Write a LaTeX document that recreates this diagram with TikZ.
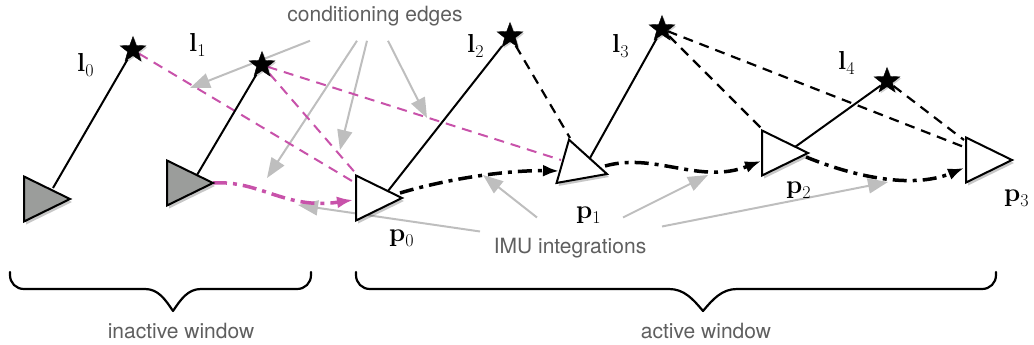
\documentclass[tikz,border=0pt]{standalone}
\usepackage{fontspec}
\newfontfamily\lab{TeX Gyre Heros}
\usetikzlibrary{shapes.geometric,arrows.meta,shadows}
\definecolor{mag}{RGB}{200,82,170}
\definecolor{lgrey}{RGB}{190,190,190}
\definecolor{tgrey}{RGB}{95,95,95}
\definecolor{tfill}{RGB}{155,157,155}
\pgfdeclarelayer{bg}
\pgfsetlayers{bg,main}
\newcommand{\vlab}[2]{\textbf{#1}\raisebox{-5pt}{\fontsize{18}{21}\selectfont #2}}
\tikzset{
  pose/.style={isosceles triangle, isosceles triangle stretches, minimum width=45pt, minimum height=46pt,
    inner sep=0pt, outer sep=0pt, draw=black, line width=2pt, fill=white, anchor=apex,
    drop shadow={fill=black, opacity=0.22, shadow xshift=2pt, shadow yshift=-3pt}},
  oldpose/.style={pose, fill=tfill},
  landmark/.style={star, star points=5, star point ratio=2.4, minimum size=27pt, inner sep=0pt,
    fill=black, draw=black,
    drop shadow={fill=black, opacity=0.18, shadow xshift=1.5pt, shadow yshift=-1.5pt}},
  lbl/.style={font=\lab\fontsize{21}{25}\selectfont, text=tgrey, inner sep=0pt, anchor=base},
  mlab/.style={font=\fontsize{26}{30}\selectfont, inner sep=0pt, anchor=base west},
  obs/.style={draw=black, line width=2pt},
  bdash/.style={draw=black, line width=2.2pt, dash pattern=on 10pt off 7pt},
  mdash/.style={draw=mag, line width=2pt, dash pattern=on 10pt off 7pt},
  imuc/.style={draw=black, line width=3.5pt, dash pattern=on 14pt off 6pt on 4pt off 6pt,
    -{Latex[length=16pt,width=12pt]}},
  magc/.style={imuc, draw=mag},
  greyarrow/.style={draw=lgrey, line width=2pt, -{Triangle[length=20pt,width=15pt]}},
  brace/.style={draw=black, line width=2.2pt, line cap=round, line join=round}
}
\begin{document}
\begin{tikzpicture}[x=1pt,y=-1pt]
\useasboundingbox (0,0) rectangle (1034,345);

% poses
\node[oldpose] (t0) at (70,199) {};
\node[oldpose] (t1) at (213,183) {};
\node[pose] (p0) at (402,198) {};
\node[pose, rotate=-16] (p1) at (607,174) {};
\node[pose] (p2) at (808,153) {};
\node[pose] (p3) at (1012,160) {};

% landmarks
\node[landmark] (l0) at (133,50) {};
\node[landmark] (l1) at (262,65) {};
\node[landmark] (l2) at (510,36) {};
\node[landmark] (l3) at (662,29) {};
\node[landmark] (l4) at (887,81) {};

% labels
\node[mlab] (tl0) at (77,72) {\vlab{l}{0}};
\node[mlab] (tl1) at (189,52) {\vlab{l}{1}};
\node[mlab] (tl2) at (467,53) {\vlab{l}{2}};
\node[mlab] (tl3) at (612,53) {\vlab{l}{3}};
\node[mlab] (tl4) at (838,70) {\vlab{l}{4}};
\node[mlab] (tp0) at (389,241) {\vlab{p}{0}};
\node[mlab] (tp1) at (576,218) {\vlab{p}{1}};
\node[mlab] (tp2) at (786,193) {\vlab{p}{2}};
\node[mlab] (tp3) at (1004,201) {\vlab{p}{3}};

\node[lbl] (ce) at (375,22) {conditioning edges};
\node[lbl] (imu) at (570,253) {IMU integrations};
\node[lbl] (iw) at (181,338) {inactive window};
\node[lbl] (aw) at (706,338) {active window};

% arrow targets
\coordinate (c1) at (190,88);
\coordinate (c2) at (267,178);
\coordinate (c3) at (340,150);
\coordinate (c4) at (427,118);
\coordinate (m1) at (298,205);
\coordinate (m2) at (483,175);
\coordinate (m3) at (708,175);
\coordinate (m4) at (888,182);

\begin{pgfonlayer}{bg}
% grey pointer arrows
\draw[greyarrow] ([shift={(-65,14)}]ce.south) -- (c1);
\draw[greyarrow] ([shift={(-18,14)}]ce.south) -- (c2);
\draw[greyarrow] ([shift={(-8,14)}]ce.south) -- (c3);
\draw[greyarrow] ([shift={(13,14)}]ce.south) -- (c4);
\draw[greyarrow] ([shift={(-90,-6)}]imu.north) -- (m1);
\draw[greyarrow] ([shift={(-33,-20)}]imu.north) -- (m2);
\draw[greyarrow] ([shift={(53,-20)}]imu.north) -- (m3);
\draw[greyarrow] ([shift={(92,-11)}]imu.north) -- (m4);

% conditioning edges (magenta)
\draw[mdash] (l0) -- ([shift={(-50,-17)}]p0.apex);
\draw[mdash] (l1) -- ([shift={(-44,-22)}]p0.apex);
\draw[mdash] (l1) -- ([shift={(-46,-14)}]p1.apex);

% observations (dashed)
\draw[bdash] (l2) -- ([shift={(-37,-36)}]p1.apex);
\draw[bdash] (l3) -- ([shift={(-47,-25)}]p2.apex);
\draw[bdash] (l3) -- ([shift={(-48,-13)}]p3.apex);
\draw[bdash] (l4) -- ([shift={(-48,-20)}]p3.apex);

% observations (solid)
\draw[obs] ([shift={(-17,-11)}]t0.apex) -- (l0);
\draw[obs] ([shift={(-16,-8)}]t1.apex) -- (l1);
\draw[obs] ([shift={(-14,-7)}]p0.apex) -- (l2);
\draw[obs] ([shift={(-17,-16)}]p1.apex) -- (l3);
\draw[obs] ([shift={(-13,-6)}]p2.apex) -- (l4);

% IMU integrations
\draw[magc] (t1.apex) .. controls (260,180) and (285,210) .. ([shift={(-49,2)}]p0.apex);
\draw[imuc] ([shift={(-2,-5)}]p0.apex) .. controls (450,178) and (510,170) .. ([shift={(-48,-3)}]p1.apex);
\draw[imuc] ([shift={(-2,-8)}]p1.apex) .. controls (655,152) and (700,185) .. ([shift={(-47,8)}]p2.apex);
\draw[imuc] ([shift={(-2,4)}]p2.apex) .. controls (850,175) and (910,190) .. ([shift={(-48,8)}]p3.apex);
\end{pgfonlayer}

% braces
\draw[brace] (10,272) -- (10,275) .. controls (10,283) and (16,289) .. (24,289) -- (145,289)
  .. controls (158,289) and (165,299) .. (173,311) .. controls (181,299) and (188,289) .. (201,289)
  -- (297,289) .. controls (305,289) and (311,283) .. (311,275) -- (311,272);
\draw[brace] (356,272) -- (356,275) .. controls (356,283) and (362,289) .. (370,289) -- (669,289)
  .. controls (684,289) and (693,299) .. (703,311) .. controls (713,299) and (722,289) .. (737,289)
  -- (982,289) .. controls (990,289) and (996,283) .. (996,275) -- (996,272);
\end{tikzpicture}
\end{document}
